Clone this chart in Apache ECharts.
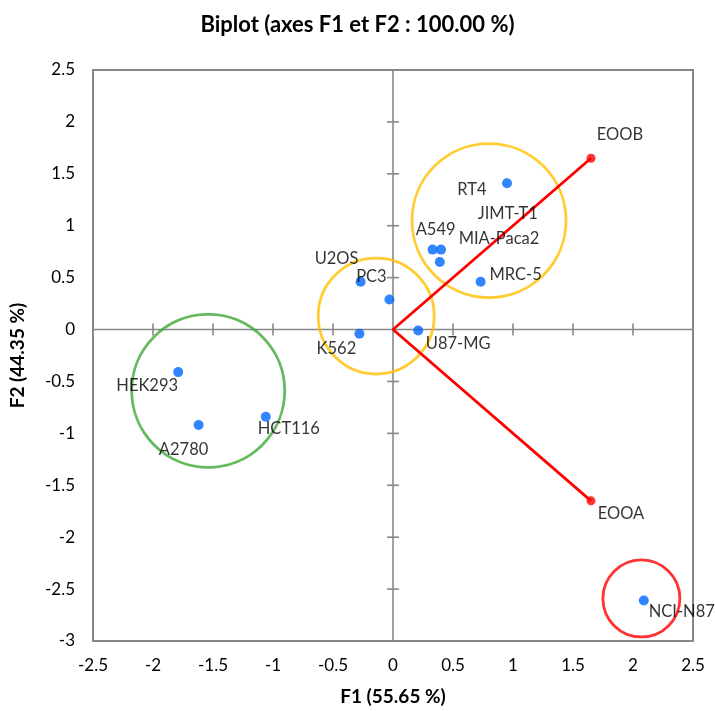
<!DOCTYPE html>
<html>
<head>
<meta charset="utf-8">
<script src="https://cdn.jsdelivr.net/npm/echarts@6/dist/echarts.min.js"></script>
<style>
  html, body { margin: 0; padding: 0; background: #fff; }
  #chart { width: 715px; height: 711px; }
</style>
</head>
<body>
<div id="chart"></div>
<script>
// Observations (cell lines) on the first two factors
const obsNames = ['RT4', 'A549', 'MIA-Paca2', 'JIMT-T1', 'MRC-5', 'U2OS', 'PC3', 'K562', 'U87-MG', 'HEK293', 'A2780', 'HCT116', 'NCI-N87'];
const obsF1 = [0.95, 0.33, 0.40, 0.39, 0.73, -0.27, -0.03, -0.28, 0.21, -1.79, -1.62, -1.06, 2.09];
const obsF2 = [1.41, 0.77, 0.77, 0.65, 0.46, 0.46, 0.29, -0.04, -0.01, -0.41, -0.92, -0.84, -2.61];

// Active variables (vectors drawn from the origin)
const varNames = ['EOOB', 'EOOA'];
const varF1 = [1.65, 1.65];
const varF2 = [1.65, -1.65];

// Cluster circles: centres in factor space
const groupNames = ['cluster A', 'cluster B', 'cluster C', 'cluster D'];
const groupF1 = [-1.54, 0.80, -0.14, 2.07];
const groupF2 = [-0.59, 1.05, 0.13, -2.59];

// Axis ticks
const xTicks = [-2.5, -2, -1.5, -1, -0.5, 0, 0.5, 1, 1.5, 2, 2.5];
const yTicks = [-3, -2.5, -2, -1.5, -1, -0.5, 0, 0.5, 1, 1.5, 2, 2.5];

// ---- presentation ----
const FONT = 'Lato, "Open Sans", sans-serif';
const AXIS_GRAY = '#878787';
const BLUE = '#0066ff';
const RED = '#ff0000';
const groupStyle = [
  { color: '#3fa836', size: 153 },
  { color: '#ffc000', size: 154 },
  { color: '#ffc000', size: 116 },
  { color: '#ff0000', size: 77 }
];
// label placement around each point (pixels from the point centre)
const labelOffset = {
  'RT4': [-35, 7], 'A549': [3, -20], 'MIA-Paca2': [58, -11], 'JIMT-T1': [68, -48],
  'MRC-5': [35, -7], 'U2OS': [-24, -23], 'PC3': [-18, -23], 'K562': [-23, 15],
  'U87-MG': [40, 13], 'HEK293': [-31, 14], 'A2780': [-15, 25], 'HCT116': [23, 12],
  'NCI-N87': [38, 11], 'EOOB': [29, -24], 'EOOA': [30, 13]
};

const xMin = xTicks[0], xMax = xTicks[xTicks.length - 1];
const yMin = yTicks[0], yMax = yTicks[yTicks.length - 1];

function pointLabel(name) {
  return {
    show: true, position: 'inside', offset: labelOffset[name],
    formatter: name, color: '#000', fontSize: 16.5, fontFamily: FONT
  };
}

const obsData = obsNames.map((n, i) => ({ name: n, value: [obsF1[i], obsF2[i]], label: pointLabel(n) }));
const varData = varNames.map((n, i) => ({ name: n, value: [varF1[i], varF2[i]], label: pointLabel(n) }));
// vectors: EOOB -> origin -> EOOA as one polyline
const vectorPath = [[varF1[0], varF2[0]], [0, 0], [varF1[1], varF2[1]]];
const groupData = groupNames.map((n, i) => ({
  name: n, value: [groupF1[i], groupF2[i]], symbolSize: groupStyle[i].size,
  itemStyle: { color: 'rgba(0,0,0,0)', borderColor: groupStyle[i].color, borderWidth: 2.8 }
}));

// zero lines crossing the plot, with ticks on both sides
function renderZeroAxes(params, api) {
  const children = [];
  const style = { stroke: AXIS_GRAY, lineWidth: 1.6 };
  const a = api.coord([xMin, 0]), b = api.coord([xMax, 0]);
  children.push({ type: 'line', shape: { x1: a[0], y1: a[1], x2: b[0], y2: b[1] }, style });
  const c = api.coord([0, yMin]), d = api.coord([0, yMax]);
  children.push({ type: 'line', shape: { x1: c[0], y1: c[1], x2: d[0], y2: d[1] }, style });
  xTicks.forEach(t => {
    if (t === 0 || t === xMin || t === xMax) return;
    const p = api.coord([t, 0]);
    children.push({ type: 'line', shape: { x1: p[0], y1: p[1] - 6, x2: p[0], y2: p[1] + 6 }, style });
  });
  yTicks.forEach(t => {
    if (t === 0 || t === yMin || t === yMax) return;
    const p = api.coord([0, t]);
    children.push({ type: 'line', shape: { x1: p[0] - 6, y1: p[1], x2: p[0] + 6, y2: p[1] }, style });
  });
  return { type: 'group', children };
}

const chart = echarts.init(document.getElementById('chart'), null, { renderer: 'canvas' });
chart.setOption({
  animation: false,
  backgroundColor: '#fff',
  title: {
    text: 'Biplot (axes F1 et F2 : 100.00 %)',
    left: 'center', top: 9,
    textStyle: { fontFamily: FONT, fontSize: 22, fontWeight: 'bold', color: '#000' }
  },
  grid: {
    left: 93, right: 22, top: 70, bottom: 69,
    show: true, borderColor: AXIS_GRAY, borderWidth: 2, backgroundColor: 'transparent'
  },
  xAxis: {
    type: 'value', min: xMin, max: xMax, interval: 0.5,
    name: 'F1 (55.65 %)', nameLocation: 'middle', nameGap: 46,
    nameTextStyle: { fontFamily: FONT, fontSize: 19, fontWeight: 'bold', color: '#000' },
    axisLine: { show: false, onZero: false }, axisTick: { show: false }, splitLine: { show: false },
    axisLabel: { fontFamily: FONT, fontSize: 17, color: '#000', margin: 16 }
  },
  yAxis: {
    type: 'value', min: yMin, max: yMax, interval: 0.5,
    name: 'F2 (44.35 %)', nameLocation: 'middle', nameGap: 66,
    nameTextStyle: { fontFamily: FONT, fontSize: 19, fontWeight: 'bold', color: '#000' },
    axisLine: { show: false, onZero: false }, axisTick: { show: false }, splitLine: { show: false },
    axisLabel: { fontFamily: FONT, fontSize: 17, color: '#000', margin: 18 }
  },
  series: [
    { type: 'custom', renderItem: renderZeroAxes, data: [[0, 0]], silent: true, z: 1 },
    {
      type: 'scatter', name: 'clusters', data: groupData, symbol: 'circle', silent: true, z: 2
    },
    {
      type: 'line', name: 'vectors', data: vectorPath, showSymbol: false, silent: true, z: 3,
      lineStyle: { color: RED, width: 2.8 }
    },
    {
      type: 'scatter', name: 'variables', data: varData, symbolSize: 9, z: 4,
      itemStyle: { color: RED }
    },
    {
      type: 'scatter', name: 'observations', data: obsData, symbolSize: 10, z: 5,
      itemStyle: { color: BLUE }
    }
  ]
});
</script>
</body>
</html>
